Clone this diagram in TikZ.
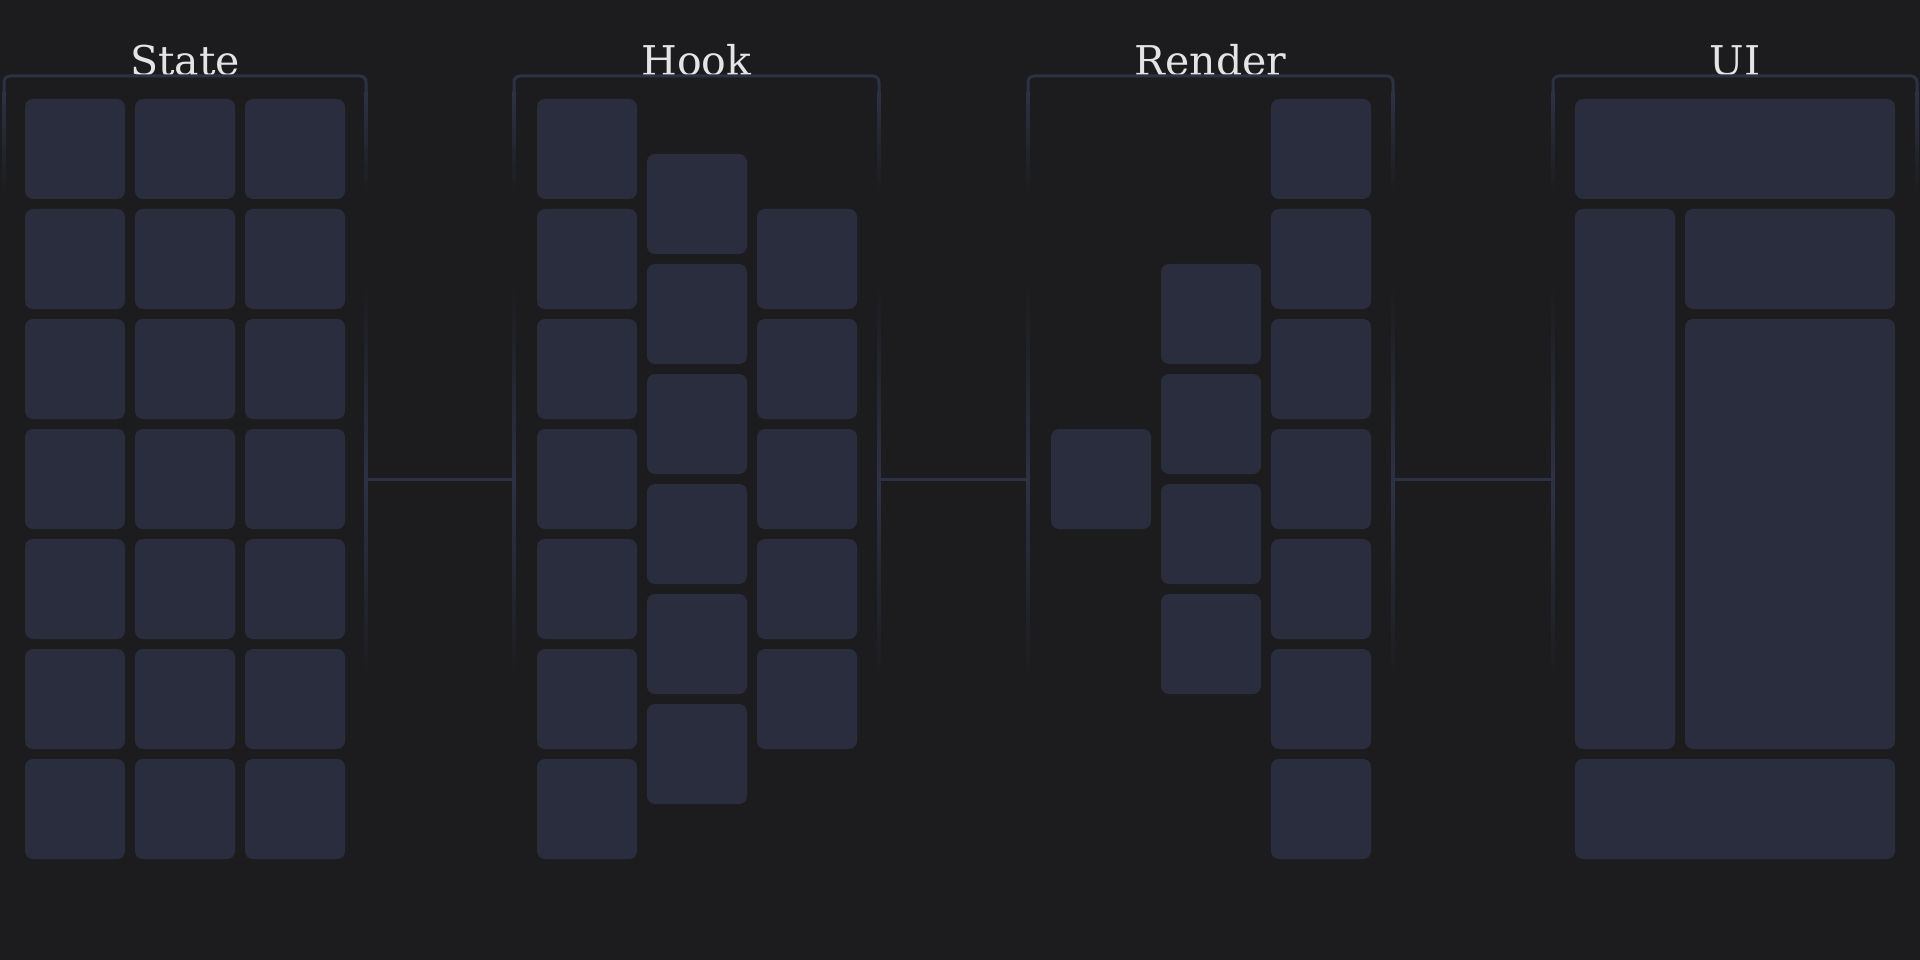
\documentclass[tikz,border=0pt]{standalone}
\usepackage{fontspec}
\setmainfont{DejaVu Serif}
\definecolor{bgcol}{RGB}{28,28,30}
\definecolor{cellcol}{RGB}{42,45,62}
\definecolor{linecol}{RGB}{45,49,68}
\definecolor{titlecol}{RGB}{228,228,228}
\begin{document}
\begin{tikzpicture}[x=1pt,y=-1pt,
      cell/.style={fill=cellcol,rounded corners=8pt,inner sep=0pt,
        minimum width=100pt,minimum height=100pt},
      title/.style={text=titlecol,anchor=base,font=\fontsize{41}{41}\selectfont},
      link/.style={draw=linecol,line width=3pt},
      fade/.style={top color=linecol,bottom color=bgcol},
      glow/.style={top color=bgcol,bottom color=bgcol,middle color=linecol}]
      \fill[bgcol] (0,0) rectangle (1920,960);
      \useasboundingbox (0,0) rectangle (1920,960);
      % frames and titles
      \foreach \xa/\xb/\txt/\nm in {4/366/State/st,514/879/Hook/hk,
        1028/1393/Render/rd,1553/1917/UI/ui}{
        \node[title] (\nm T) at ({(\xa+\xb)/2},76) {\txt};
        \draw[link,rounded corners=6pt] (\xa,92) -- (\xa,76) -- (\xb,76) -- (\xb,92);
        \shade[fade] (\xa-1.5,92) rectangle (\xa+1.5,192);
        \shade[fade] (\xb-1.5,92) rectangle (\xb+1.5,192);
        \coordinate (\nm L) at (\xa,479);
        \coordinate (\nm R) at (\xb,479);
      }
      % State
      \foreach \c in {0,1,2}
        \foreach \r in {0,...,6}
          \node[cell] (st\c\r) at (75+110*\c,149+110*\r) {};
      % Hook
      \foreach \r in {0,...,6}
        \node[cell] (hka\r) at (587,149+110*\r) {};
      \foreach \r in {0,...,5}
        \node[cell] (hkb\r) at (697,204+110*\r) {};
      \foreach \r in {0,...,4}
        \node[cell] (hkc\r) at (807,259+110*\r) {};
      % Render
      \node[cell] (rda) at (1101,479) {};
      \foreach \r in {0,...,3}
        \node[cell] (rdb\r) at (1211,314+110*\r) {};
      \foreach \r in {0,...,6}
        \node[cell] (rdc\r) at (1321,149+110*\r) {};
      % UI
      \node[cell,minimum width=320pt] (uitop) at (1735,149) {};
      \node[cell,minimum height=540pt] (uiside) at (1625,479) {};
      \node[cell,minimum width=210pt] (uibar) at (1790,259) {};
      \node[cell,minimum width=210pt,minimum height=430pt] (uimain) at (1790,534) {};
      \node[cell,minimum width=320pt] (uibot) at (1735,809) {};
      % connectors
      \foreach \p in {stR,hkL,hkR,rdL,rdR,uiL}
        \shade[glow] ([xshift=-1.5pt,yshift=195pt]\p) rectangle ([xshift=1.5pt,yshift=-201pt]\p);
      \draw[link] (stR) -- (hkL);
      \draw[link] (hkR) -- (rdL);
      \draw[link] (rdR) -- (uiL);
\end{tikzpicture}
\end{document}
